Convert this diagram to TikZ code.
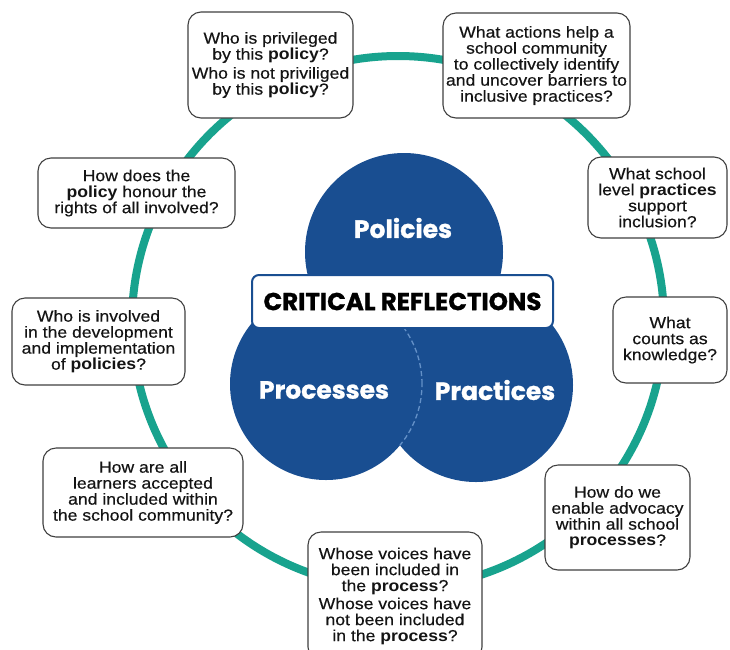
\documentclass[tikz,border=0pt]{standalone}
\usepackage{fontspec}
\setmainfont{Liberation Sans}[FakeStretch=1.1, UprightFeatures={FakeBold=0.4}]
\newfontfamily\headfont{Poppins}[BoldFeatures={FakeBold=1}]
\definecolor{ringteal}{RGB}{24,163,142}
\definecolor{circblue}{RGB}{25,78,145}
\definecolor{dashblue}{RGB}{100,145,200}
\tikzset{
  question/.style={draw=black!75, line width=1.1pt, fill=white, rounded corners=13pt,
    inner sep=0pt, align=center, text=black!92, font=\fontsize{16}{16}\selectfont},
  topiclabel/.style={text=white, font=\headfont\bfseries\fontsize{25}{25}\selectfont},
  titlebox/.style={draw=circblue, line width=2pt, fill=white, rounded corners=7pt,
    inner sep=0pt, font=\headfont\bfseries\fontsize{24.5}{24.5}\selectfont},
}
\begin{document}
\begin{tikzpicture}[x=1pt,y=-1pt]
  \useasboundingbox (0,0) rectangle (730,649);
  \fill[white] (0,0) rectangle (730,649);
  \def\ringX{398}
  \def\ringY{322}
  \def\ringR{266}
  % teal ring behind everything
  \draw[ringteal, line width=8pt] (\ringX,\ringY) circle[radius=\ringR pt];
  % the three circles: processes, practices, policies
  \foreach \X/\Y/\R in {326/384/96, 476/385/97, 404/252/99}
    {
    \fill[circblue] (\X,\Y) circle[radius=\R pt];
    }
  % hidden edge of processes inside practices
  \begin{scope}
    \clip (476,385) circle[radius=97pt];
    \draw[dashblue, line width=1.3pt, dash pattern=on 5pt off 3pt] (326,384) circle[radius=96pt];
  \end{scope}
  \node[topiclabel] (policies) at (403,228) {Policies};
  \node[topiclabel] (processes) at (324,390) {Processes};
  \node[topiclabel] (practices) at (495,390) {Practices};
  \node[titlebox, minimum width=301pt, minimum height=53pt] (title) at (402.5,301.5) {CRITICAL REFLECTIONS};
  %
  % question boxes round the ring
  \node[question, minimum width=165pt, minimum height=106pt] (privileged) at (270.5,65)
    {Who is privileged\\by this \textbf{policy}?\\[3pt]Who is not priviliged\\by this \textbf{policy}?};
  \node[question, minimum width=187pt, minimum height=105pt] (actions) at (536.5,65.5)
    {What actions help a\\school community\\to collectively identify\\and uncover barriers to\\inclusive practices?};
  \node[question, minimum width=197pt, minimum height=70pt] (honour) at (136.5,193)
    {How does the\\\textbf{policy} honour the\\rights of all involved?};
  \node[question, minimum width=139pt, minimum height=81pt] (schoollevel) at (657.5,197.5)
    {What school\\level \textbf{practices}\\support\\inclusion?};
  \node[question, minimum width=173pt, minimum height=87pt] (involved) at (98.5,341.5)
    {Who is involved\\in the development\\and implementation\\of \textbf{policies}?};
  \node[question, minimum width=114pt, minimum height=86pt] (knowledge) at (670,340)
    {What\\counts as\\knowledge?};
  \node[question, minimum width=200pt, minimum height=89pt] (learners) at (143,492.5)
    {How are all\\learners accepted\\and included within\\the school community?};
  \node[question, minimum width=145pt, minimum height=105pt] (advocacy) at (617.5,517.5)
    {How do we\\enable advocacy\\within all school\\\textbf{processes}?};
  \node[question, minimum width=174pt, minimum height=128pt] (voices) at (395,596)
    {Whose voices have\\been included in\\the \textbf{process}?\\[2pt]Whose voices have\\not been included\\in the \textbf{process}?};
\end{tikzpicture}
\end{document}
